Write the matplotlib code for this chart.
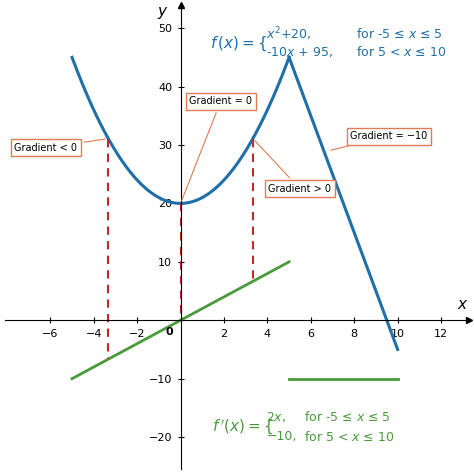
import numpy as np
import matplotlib
matplotlib.use("Agg")
import matplotlib.pyplot as plt

x_quad = np.linspace(-5, 5, 201)
x_lin = [5, 10]
x_dash = [-3.33, 0, 3.33]
fprime_lin_x = [-5, 5]
fprime_const_x = [5, 10]
fprime_const_y = [-10, -10]
xticks = [-6, -4, -2, 2, 4, 6, 8, 10, 12]
yticks = [-20, -10, 10, 20, 30, 40, 50]

blue = '#1f6fa8'
green = '#4a9a3c'
red = '#c0282d'
boxc = '#e07b54'

fig = plt.figure(figsize=(4.74, 4.74), dpi=100)
ax = fig.add_axes([0.01, 0.01, 0.98, 0.98])
ax.set_xlim(-8.1, 13.3)
ax.set_ylim(-25.5, 54)
for s in ['top', 'right']:
    ax.spines[s].set_visible(False)
ax.spines['left'].set_position(('data', 0))
ax.spines['bottom'].set_position(('data', 0))
ax.plot(1, 0, '>k', transform=ax.get_yaxis_transform(), clip_on=False, ms=5)
ax.plot(0, 1, '^k', transform=ax.get_xaxis_transform(), clip_on=False, ms=5)
ax.set_xticks(xticks)
ax.set_yticks(yticks)
ax.tick_params(labelsize=8, direction='inout', length=5)
ax.text(-0.35, -1.2, '0', fontsize=8, ha='right', va='top', fontweight='bold')
ax.text(13.0, 2, '$x$', fontsize=11, ha='center')
ax.text(-0.8, 52, '$y$', fontsize=11, ha='center')

ax.plot(x_quad, x_quad**2 + 20, color=blue, lw=2.2)
ax.plot(x_lin, [-10*v + 95 for v in x_lin], color=blue, lw=2.2)
ax.plot(fprime_lin_x, [2*v for v in fprime_lin_x], color=green, lw=2)
ax.plot(fprime_const_x, fprime_const_y, color=green, lw=2)
for xv in x_dash:
    ax.plot([xv, xv], [xv**2 + 20, 2*xv], color=red, lw=1.5, ls=(0, (4, 3)))

bbox = dict(boxstyle='square,pad=0.35', fc='white', ec=boxc, lw=1)
ap = dict(arrowstyle='-', color=boxc, lw=0.8)
ax.annotate('Gradient < 0', xy=(-3.33, 31.1), xytext=(-6.2, 29.5), fontsize=7,
            ha='center', va='center', bbox=bbox, arrowprops=ap)
ax.annotate('Gradient = 0', xy=(0, 20), xytext=(1.85, 37.5), fontsize=7,
            ha='center', va='center', bbox=bbox, arrowprops=ap)
ax.annotate('Gradient > 0', xy=(3.33, 31.1), xytext=(5.5, 22.5), fontsize=7,
            ha='center', va='center', bbox=bbox, arrowprops=ap)
ax.annotate('Gradient = −10', xy=(6.8, 29), xytext=(9.6, 31.5), fontsize=7,
            ha='center', va='center', bbox=bbox, arrowprops=ap)

ax.text(1.35, 47.3, r'$f\,(x) = \{$', fontsize=11, color=blue, va='center')
ax.text(3.95, 49.0, r'$x^2$+20,', fontsize=9, color=blue, va='center')
ax.text(3.95, 45.9, r'-10$x$ + 95,', fontsize=9, color=blue, va='center')
ax.text(8.1, 49.0, r'for -5 ≤ $x$ ≤ 5', fontsize=9, color=blue, va='center')
ax.text(8.1, 45.9, r'for 5 < $x$ ≤ 10', fontsize=9, color=blue, va='center')

ax.text(1.45, -18.3, r"$f\,'(x) = \{$", fontsize=11, color=green, va='center')
ax.text(3.95, -16.6, r'2$x$,', fontsize=9, color=green, va='center')
ax.text(3.95, -19.9, r'−10,', fontsize=9, color=green, va='center')
ax.text(5.7, -16.6, r'for -5 ≤ $x$ ≤ 5', fontsize=9, color=green, va='center')
ax.text(5.7, -19.9, r'for 5 < $x$ ≤ 10', fontsize=9, color=green, va='center')

fig.savefig('out.png', dpi=100)
